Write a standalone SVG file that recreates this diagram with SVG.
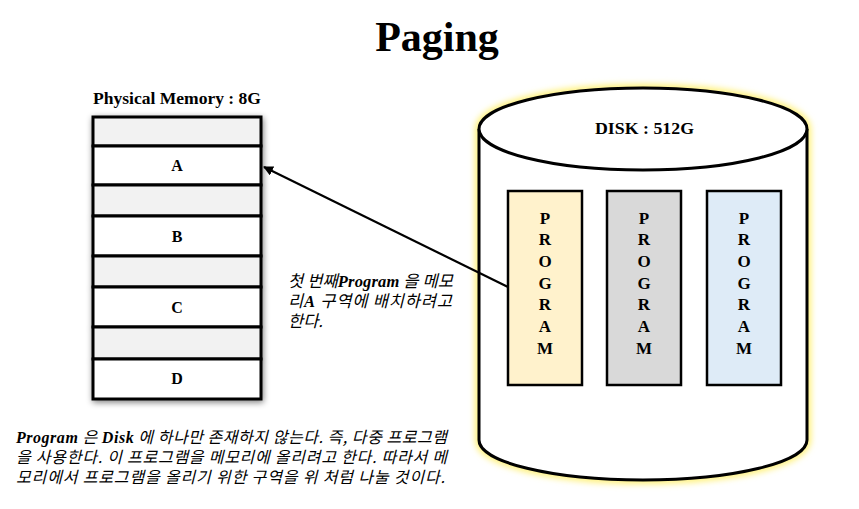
<svg xmlns="http://www.w3.org/2000/svg" width="859" height="509" viewBox="0 0 859 509">
<style>
.t{font-family:"Liberation Serif","Noto Sans CJK KR",serif;font-weight:bold;fill:#000}
.k{font-family:"Liberation Serif","Noto Sans CJK KR",sans-serif;font-style:italic;fill:#000}
.kr{font-family:"Noto Sans CJK KR",sans-serif;font-style:italic}
.lat{font-family:"Liberation Serif",serif;font-weight:bold;font-style:italic}
.free{fill:#F2F2F2;stroke:#000;stroke-width:3}
.slot{fill:#FFFFFF;stroke:#000;stroke-width:3}
.prog{stroke:#000;stroke-width:2.5}
.pl{font-family:"Liberation Serif",serif;font-weight:bold;font-size:17px;text-anchor:middle}
</style>
<defs>
<filter id="shadow" x="-20%" y="-20%" width="140%" height="140%">
<feGaussianBlur in="SourceAlpha" stdDeviation="3"/>
<feOffset dx="1" dy="2" result="b"/>
<feComponentTransfer><feFuncA type="linear" slope="0.5"/></feComponentTransfer>
<feMerge><feMergeNode/><feMergeNode in="SourceGraphic"/></feMerge>
</filter>
<filter id="glow" x="-10%" y="-10%" width="120%" height="120%">
<feGaussianBlur stdDeviation="3"/>
</filter>
<marker id="arr" markerWidth="10" markerHeight="10" refX="9" refY="5" orient="auto" markerUnits="userSpaceOnUse" viewBox="0 0 10 10">
<path d="M0,0 L10,5 L0,10 Z" fill="#000"/>
</marker>
</defs>
<rect width="859" height="509" fill="#FFFFFF"/>

<g id="title"><text class="t" x="437" y="51" font-size="42" text-anchor="middle">Paging</text></g>

<g id="memory">
<text class="t" x="93" y="104" font-size="17" textLength="168" lengthAdjust="spacingAndGlyphs">Physical Memory : 8G</text>
<g filter="url(#shadow)">
<rect class="free" x="93" y="117" width="168" height="29"/>
<rect class="slot" x="93" y="146" width="168" height="39"/>
<rect class="free" x="93" y="185" width="168" height="31"/>
<rect class="slot" x="93" y="216" width="168" height="40"/>
<rect class="free" x="93" y="256" width="168" height="31"/>
<rect class="slot" x="93" y="287" width="168" height="40"/>
<rect class="free" x="93" y="327" width="168" height="32"/>
<rect class="slot" x="93" y="359" width="168" height="40"/>
</g>
<text class="t" x="177" y="171" font-size="16" text-anchor="middle">A</text>
<text class="t" x="177" y="242" font-size="16" text-anchor="middle">B</text>
<text class="t" x="177" y="313" font-size="16" text-anchor="middle">C</text>
<text class="t" x="177" y="384" font-size="16" text-anchor="middle">D</text>
</g>

<g id="disk">
<path d="M479,129 L479,440 A164,40 0 0 0 807,440 L807,129 A164,41 0 0 0 479,129 Z" fill="none" stroke="#FFF176" stroke-width="8" filter="url(#glow)"/>
<path d="M479,129 L479,440 A164,40 0 0 0 807,440 L807,129" fill="#FFFFFF" stroke="#000" stroke-width="3"/>
<ellipse cx="643" cy="129" rx="164" ry="41" fill="#FFFFFF" stroke="#000" stroke-width="3"/>
<text class="t" x="595" y="134" font-size="17" textLength="99" lengthAdjust="spacingAndGlyphs">DISK : 512G</text>
</g>

<g id="program1">
<rect class="prog" x="508" y="191" width="74" height="194" fill="#FFF2CC"/>
<text class="pl"><tspan x="545" y="224">P</tspan><tspan x="545" y="245">R</tspan><tspan x="545" y="267">O</tspan><tspan x="545" y="289">G</tspan><tspan x="545" y="310">R</tspan><tspan x="545" y="332">A</tspan><tspan x="545" y="354">M</tspan></text>
</g>
<g id="program2">
<rect class="prog" x="607" y="191" width="74" height="194" fill="#D9D9D9"/>
<text class="pl"><tspan x="644" y="224">P</tspan><tspan x="644" y="245">R</tspan><tspan x="644" y="267">O</tspan><tspan x="644" y="289">G</tspan><tspan x="644" y="310">R</tspan><tspan x="644" y="332">A</tspan><tspan x="644" y="354">M</tspan></text>
</g>
<g id="program3">
<rect class="prog" x="707" y="191" width="74" height="194" fill="#DEEBF7"/>
<text class="pl"><tspan x="744" y="224">P</tspan><tspan x="744" y="245">R</tspan><tspan x="744" y="267">O</tspan><tspan x="744" y="289">G</tspan><tspan x="744" y="310">R</tspan><tspan x="744" y="332">A</tspan><tspan x="744" y="354">M</tspan></text>
</g>

<g id="connectors">
<line x1="508" y1="287" x2="264" y2="167" stroke="#000" stroke-width="2.2" marker-end="url(#arr)"/>
</g>

<g id="note">
<text class="k" x="288" y="287" font-size="16.5" textLength="165" lengthAdjust="spacing"><tspan class="kr">첫 번째</tspan><tspan class="lat">Program</tspan><tspan class="kr"> 을 메모</tspan></text>
<text class="k" x="288" y="307" font-size="16.5" textLength="164" lengthAdjust="spacing"><tspan class="kr">리</tspan><tspan class="lat">A</tspan><tspan class="kr"> 구역에 배치하려고</tspan></text>
<text class="k" x="288" y="327" font-size="16.5"><tspan class="kr">한다.</tspan></text>
</g>

<g id="caption">
<text class="k" x="16" y="443" font-size="16" textLength="431" lengthAdjust="spacing"><tspan class="lat">Program</tspan><tspan class="kr"> 은 </tspan><tspan class="lat">Disk</tspan><tspan class="kr"> 에 하나만 존재하지 않는다. 즉, 다중 프로그램</tspan></text>
<text class="k" x="16" y="463" font-size="16" textLength="431" lengthAdjust="spacing"><tspan class="kr">을 사용한다. 이 프로그램을 메모리에 올리려고 한다. 따라서 메</tspan></text>
<text class="k" x="16" y="483" font-size="16" textLength="429" lengthAdjust="spacing"><tspan class="kr">모리에서 프로그램을 올리기 위한 구역을 위 처럼 나눌 것이다.</tspan></text>
</g>
</svg>
